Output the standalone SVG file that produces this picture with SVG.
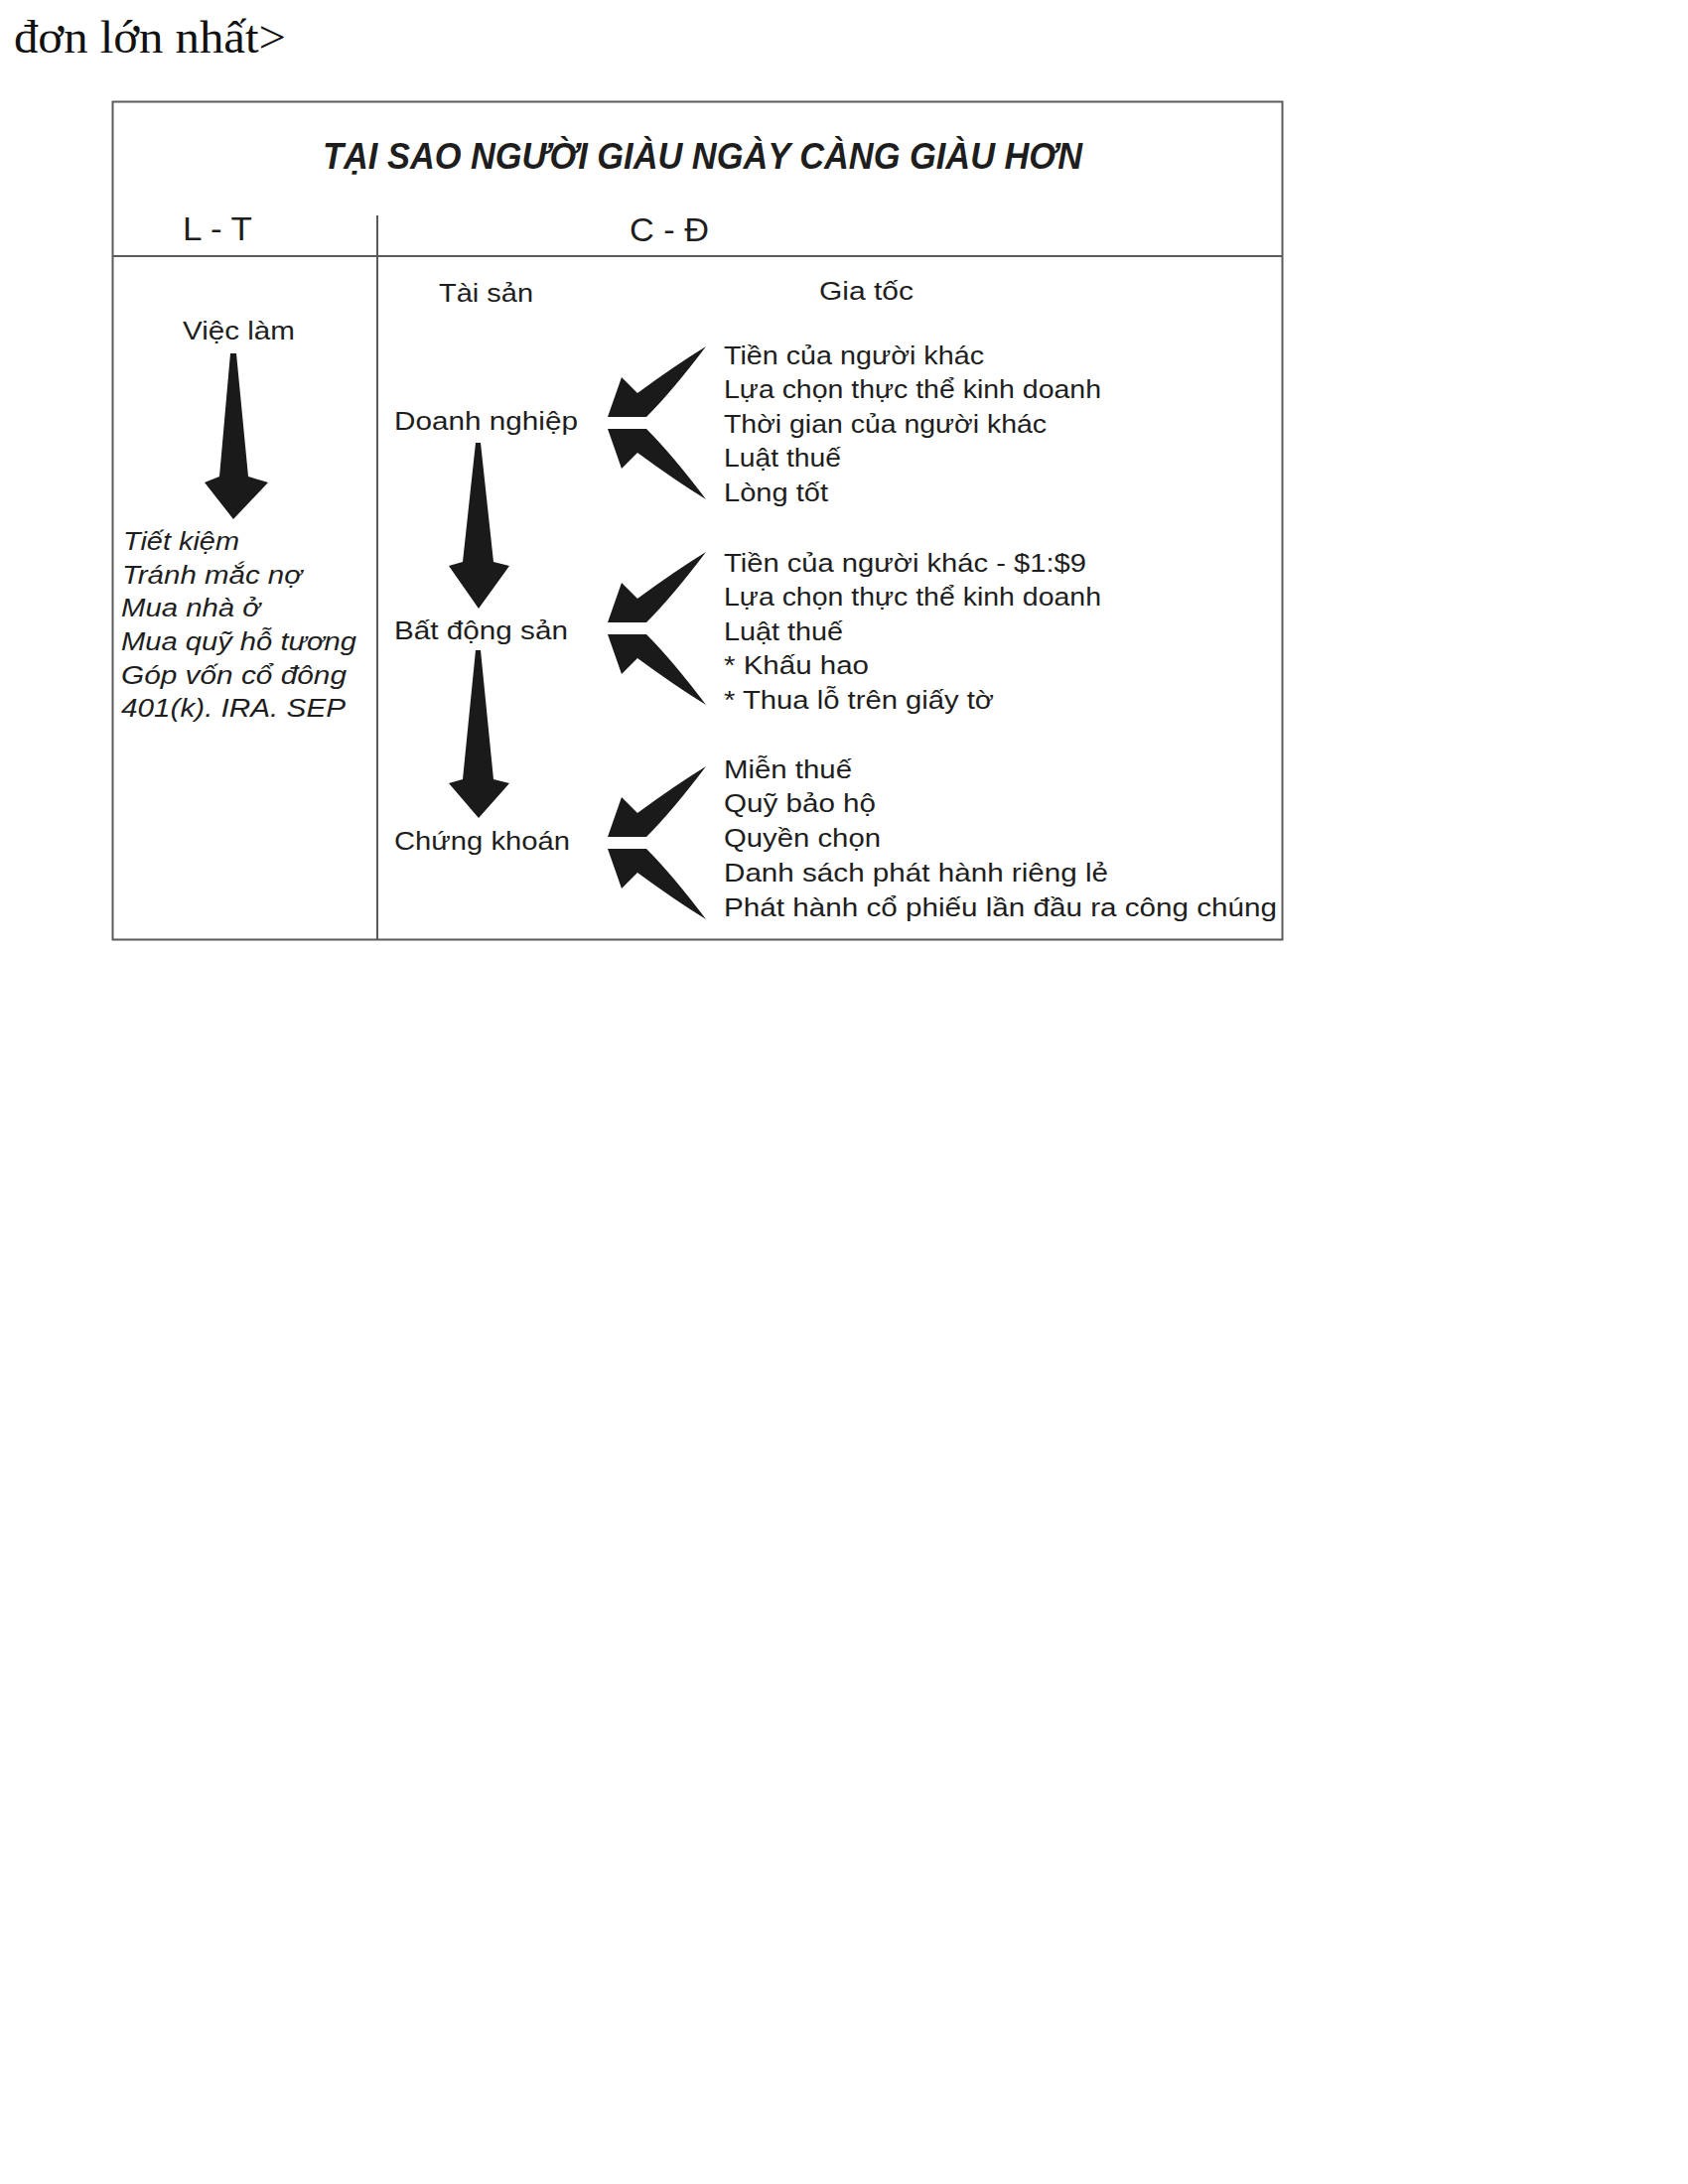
<svg xmlns="http://www.w3.org/2000/svg" xmlns:xlink="http://www.w3.org/1999/xlink" width="1700" height="2200" viewBox="0 0 1700 2200">
<style>
.t{font-family:"Liberation Sans",Arial,sans-serif;fill:#1e1e1e}
.r{font-size:25px}
.m{font-size:26px}
.h{font-size:34px}
.i{font-size:26px;font-style:italic}
.ttl{font-size:36px;font-weight:bold;font-style:italic}
.ln{stroke:#5a5a5a;stroke-width:2;fill:none}
.ar{fill:#1a1a1a}
</style>
<defs>
<path id="cu" d="M711,-77 Q680,-58 642,-30 L626,-46 L612,-6 L651,-6 Q677,-32 711,-77 Z"/>
</defs>
<rect width="1700" height="2200" fill="#ffffff"/>
<text x="14" y="53" font-family="'Liberation Serif','Times New Roman',serif" font-size="47" fill="#111" textLength="274" lengthAdjust="spacingAndGlyphs">đơn lớn nhất&gt;</text>

<g id="frame">
<rect class="ln" x="113.5" y="102.5" width="1178" height="844"/>
<line class="ln" x1="113" y1="258" x2="1292" y2="258" stroke-width="3"/>
<line class="ln" x1="380" y1="217" x2="380" y2="946"/>
</g>

<g id="title"><text class="t ttl" x="325" y="170" textLength="765" lengthAdjust="spacingAndGlyphs">TẠI SAO NGƯỜI GIÀU NGÀY CÀNG GIÀU HƠN</text></g>
<g id="hdr-lt"><text class="t h" x="184" y="242" textLength="70" lengthAdjust="spacingAndGlyphs">L - T</text></g>
<g id="hdr-cd"><text class="t h" x="634" y="243" textLength="80" lengthAdjust="spacingAndGlyphs">C - Đ</text></g>
<g id="hdr-ts"><text class="t m" x="442" y="304" textLength="95" lengthAdjust="spacingAndGlyphs">Tài sản</text></g>
<g id="hdr-gt"><text class="t m" x="825" y="302" textLength="95" lengthAdjust="spacingAndGlyphs">Gia tốc</text></g>

<g id="n-vieclam"><text class="t m" x="184" y="342" textLength="113" lengthAdjust="spacingAndGlyphs">Việc làm</text></g>
<g id="n-list" class="t i">
<text x="124" y="554" textLength="117" lengthAdjust="spacingAndGlyphs">Tiết kiệm</text>
<text x="123" y="588" textLength="181" lengthAdjust="spacingAndGlyphs">Tránh mắc nợ</text>
<text x="122" y="621" textLength="140" lengthAdjust="spacingAndGlyphs">Mua nhà ở</text>
<text x="122" y="655" textLength="237" lengthAdjust="spacingAndGlyphs">Mua quỹ hỗ tương</text>
<text x="122" y="689" textLength="227" lengthAdjust="spacingAndGlyphs">Góp vốn cổ đông</text>
<text x="122" y="722" textLength="226" lengthAdjust="spacingAndGlyphs">401(k). IRA. SEP</text>
</g>

<g id="n-doanhnghiep"><text class="t m" x="397" y="433" textLength="185" lengthAdjust="spacingAndGlyphs">Doanh nghiệp</text></g>
<g id="n-batdongsan"><text class="t m" x="397" y="644" textLength="175" lengthAdjust="spacingAndGlyphs">Bất động sản</text></g>
<g id="n-chungkhoan"><text class="t m" x="397" y="856" textLength="177" lengthAdjust="spacingAndGlyphs">Chứng khoán</text></g>

<g id="g1" class="t r">
<text x="729" y="367" textLength="262" lengthAdjust="spacingAndGlyphs">Tiền của người khác</text>
<text x="729" y="401" textLength="380" lengthAdjust="spacingAndGlyphs">Lựa chọn thực thể kinh doanh</text>
<text x="729" y="436" textLength="325" lengthAdjust="spacingAndGlyphs">Thời gian của người khác</text>
<text x="729" y="470" textLength="118" lengthAdjust="spacingAndGlyphs">Luật thuế</text>
<text x="729" y="505" textLength="105" lengthAdjust="spacingAndGlyphs">Lòng tốt</text>
</g>
<g id="g2" class="t r">
<text x="729" y="576" textLength="365" lengthAdjust="spacingAndGlyphs">Tiền của người khác - $1:$9</text>
<text x="729" y="610" textLength="380" lengthAdjust="spacingAndGlyphs">Lựa chọn thực thể kinh doanh</text>
<text x="729" y="645" textLength="120" lengthAdjust="spacingAndGlyphs">Luật thuế</text>
<text x="729" y="679" textLength="146" lengthAdjust="spacingAndGlyphs">* Khấu hao</text>
<text x="729" y="714" textLength="272" lengthAdjust="spacingAndGlyphs">* Thua lỗ trên giấy tờ</text>
</g>
<g id="g3" class="t r">
<text x="729" y="784" textLength="129" lengthAdjust="spacingAndGlyphs">Miễn thuế</text>
<text x="729" y="818" textLength="153" lengthAdjust="spacingAndGlyphs">Quỹ bảo hộ</text>
<text x="729" y="853" textLength="158" lengthAdjust="spacingAndGlyphs">Quyền chọn</text>
<text x="729" y="888" textLength="387" lengthAdjust="spacingAndGlyphs">Danh sách phát hành riêng lẻ</text>
<text x="729" y="923" textLength="557" lengthAdjust="spacingAndGlyphs">Phát hành cổ phiếu lần đầu ra công chúng</text>
</g>

<g id="connectors" class="ar">
<path d="M232,356 L238,356 L250,480 L270,486 L235,523 L206,486 L221,480 Z"/>
<path d="M479,446 L484,446 L497,566 L513,570 L482,613 L452,570 L466,566 Z"/>
<path d="M479,655 L484,655 L497,785 L513,789 L482,824 L452,789 L466,785 Z"/>
<use xlink:href="#cu" transform="translate(0,426)"/>
<use xlink:href="#cu" transform="translate(0,426) scale(1,-1)"/>
<use xlink:href="#cu" transform="translate(0,633)"/>
<use xlink:href="#cu" transform="translate(0,633) scale(1,-1)"/>
<use xlink:href="#cu" transform="translate(0,849)"/>
<use xlink:href="#cu" transform="translate(0,849) scale(1,-1)"/>
</g>
</svg>
